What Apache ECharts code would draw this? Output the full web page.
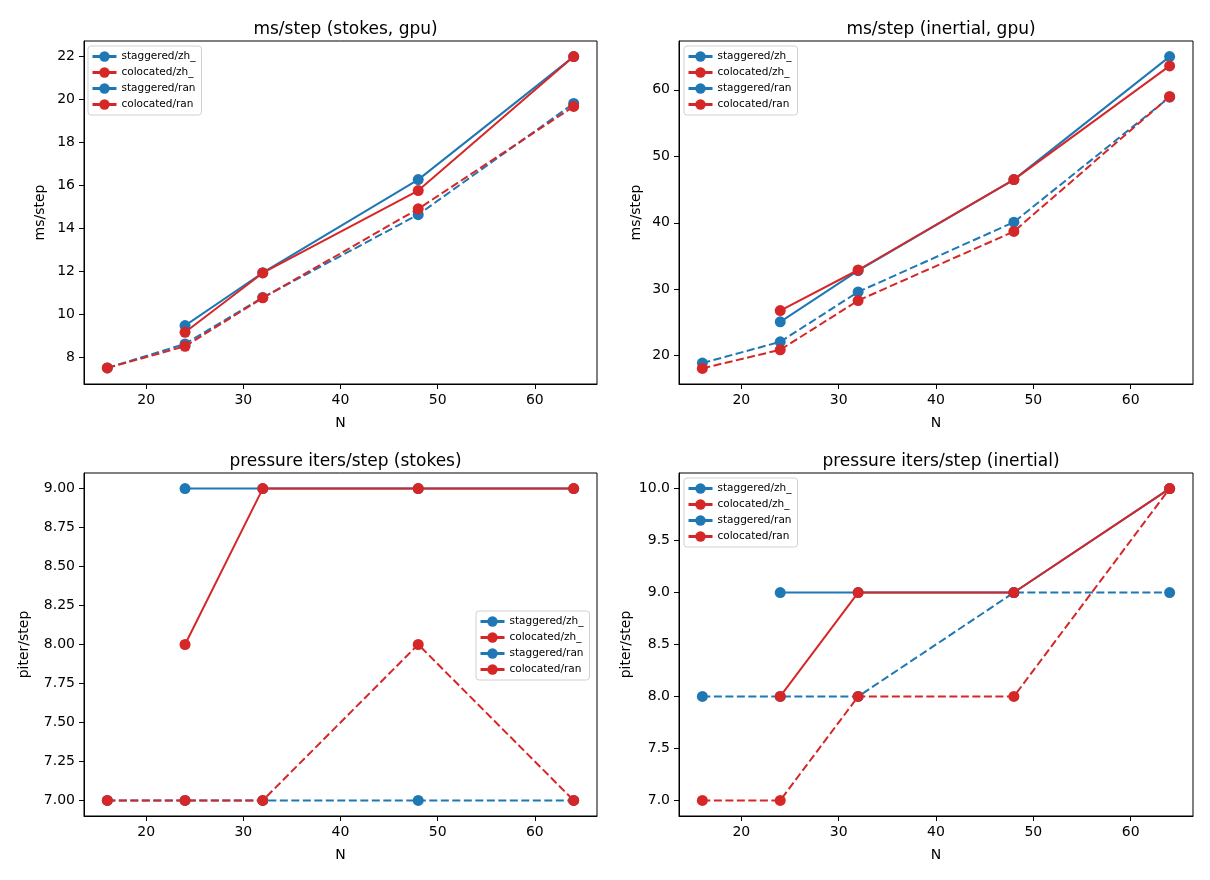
<!DOCTYPE html>
<html lang="en">
<head>
    <meta charset="UTF-8">
    <title>ms/step and pressure iters</title>
</head>
<style type="text/css">
    *{
        margin: 0;
        padding: 0;
    }
    #chart{
        width: 1210px;
        height: 880px;
        background: #fff;
    }
</style>
<body>
<div id="chart"></div>
</body>
<script src="https://cdn.jsdelivr.net/npm/echarts@6/dist/echarts.min.js"></script>
<script>
    // x values (grid size N)
    var N = [16, 24, 32, 48, 64];

    // ms/step (stokes, gpu)
    var stokesMsStagZh = [7.52, 8.64, 10.8, 14.65, 19.82];
    var stokesMsColZh  = [7.52, 8.53, 10.78, 14.92, 19.68];
    var stokesMsStagRan = [null, 9.49, 11.95, 16.28, 22.0];
    var stokesMsColRan  = [null, 9.18, 11.94, 15.77, 22.0];

    // ms/step (inertial, gpu)
    var inertMsStagZh = [18.9, 22.1, 29.6, 40.1, 58.9];
    var inertMsColZh  = [18.1, 20.9, 28.3, 38.7, 59.0];
    var inertMsStagRan = [null, 25.1, 32.8, 46.5, 65.0];
    var inertMsColRan  = [null, 26.8, 32.9, 46.5, 63.6];

    // pressure iters/step (stokes)
    var stokesItStagZh = [7, 7, 7, 7, 7];
    var stokesItColZh  = [7, 7, 7, 8, 7];
    var stokesItStagRan = [null, 9, 9, 9, 9];
    var stokesItColRan  = [null, 8, 9, 9, 9];

    // pressure iters/step (inertial)
    var inertItStagZh = [8, 8, 8, 9, 9];
    var inertItColZh  = [7, 7, 8, 8, 10];
    var inertItStagRan = [null, 9, 9, 9, 10];
    var inertItColRan  = [null, 8, 9, 9, 10];

    // tick labels
    var xTicks = [20, 30, 40, 50, 60];
    var yTicksStokesMs = [8, 10, 12, 14, 16, 18, 20, 22];
    var yTicksInertMs = [20, 30, 40, 50, 60];
    var yTicksStokesIt = [7.0, 7.25, 7.5, 7.75, 8.0, 8.25, 8.5, 8.75, 9.0];
    var yTicksInertIt = [7.0, 7.5, 8.0, 8.5, 9.0, 9.5, 10.0];

    var names = ['staggered/zh_', 'colocated/zh_', 'staggered/ran', 'colocated/ran'];
    var titles = ['ms/step (stokes, gpu)', 'ms/step (inertial, gpu)', 'pressure iters/step (stokes)', 'pressure iters/step (inertial)'];
    var yNames = ['ms/step', 'ms/step', 'piter/step', 'piter/step'];

    var BLUE = '#1f77b4', RED = '#d62728';
    var FONT = 'DejaVu Sans';

    var panels = [
        {data: [stokesMsStagZh, stokesMsColZh, stokesMsStagRan, stokesMsColRan], ticks: yTicksStokesMs, dec: 0, min: 6.775, max: 22.725, gap: 37},
        {data: [inertMsStagZh, inertMsColZh, inertMsStagRan, inertMsColRan], ticks: yTicksInertMs, dec: 0, min: 15.75, max: 67.35, gap: 36},
        {data: [stokesItStagZh, stokesItColZh, stokesItStagRan, stokesItColRan], ticks: yTicksStokesIt, dec: 2, min: 6.9, max: 9.1, gap: 53},
        {data: [inertItStagZh, inertItColZh, inertItStagRan, inertItColRan], ticks: yTicksInertIt, dec: 1, min: 6.85, max: 10.15, gap: 46}
    ];

    var gridPos = [
        {left: 84, top: 41, width: 513, height: 343},
        {left: 679, top: 41, width: 514, height: 343},
        {left: 84, top: 473, width: 513, height: 343},
        {left: 679, top: 473, width: 514, height: 343}
    ];
    var legendPos = [
        {left: 88, top: 46},
        {left: 684, top: 46},
        {left: 476, top: 611},
        {left: 684, top: 478}
    ];

    function pairs(ys) {
        var out = [];
        for (var i = 0; i < N.length; i++) {
            if (ys[i] !== null) out.push([N[i], ys[i]]);
        }
        return out;
    }

    var grid = [], xAxis = [], yAxis = [], series = [], title = [], legend = [];

    for (var p = 0; p < 4; p++) {
        var g = gridPos[p];
        grid.push({left: g.left, top: g.top, width: g.width, height: g.height,
            show: true, borderColor: '#000', borderWidth: 1, backgroundColor: 'transparent'});

        title.push({
            text: titles[p], left: g.left + g.width / 2, top: g.top - 25, textAlign: 'center',
            textStyle: {fontFamily: FONT, fontSize: 17, fontWeight: 'normal', color: '#000'}
        });

        xAxis.push({
            type: 'value', gridIndex: p, min: 13.6, max: 66.4,
            name: 'N', nameLocation: 'middle', nameGap: 32,
            nameTextStyle: {fontFamily: FONT, fontSize: 14, color: '#000'},
            axisLine: {show: true, lineStyle: {color: '#000'}},
            axisTick: {show: true, length: 5, lineStyle: {color: '#000'}, customValues: xTicks},
            axisLabel: {fontFamily: FONT, fontSize: 14, color: '#000', margin: 9, customValues: xTicks},
            splitLine: {show: false}
        });

        (function (dec) {
            yAxis.push({
                type: 'value', gridIndex: p, min: panels[p].min, max: panels[p].max,
                name: yNames[p], nameLocation: 'middle', nameGap: panels[p].gap,
                nameTextStyle: {fontFamily: FONT, fontSize: 14, color: '#000'},
                axisLine: {show: true, lineStyle: {color: '#000'}},
                axisTick: {show: true, length: 5, lineStyle: {color: '#000'}, customValues: panels[p].ticks},
                axisLabel: {fontFamily: FONT, fontSize: 14, color: '#000', margin: 9,
                    customValues: panels[p].ticks,
                    formatter: function (v) { return v.toFixed(dec); }},
                splitLine: {show: false}
            });
        })(panels[p].dec);

        for (var s = 0; s < 4; s++) {
            var col = (s % 2 === 0) ? BLUE : RED;
            series.push({
                name: names[s], type: 'line', xAxisIndex: p, yAxisIndex: p,
                data: pairs(panels[p].data[s]),
                symbol: 'circle', symbolSize: 11, showSymbol: true,
                lineStyle: {color: col, width: 2, type: s < 2 ? [8, 3.5] : 'solid'},
                itemStyle: {color: col},
                z: 2 + s,
                animation: false
            });
        }

        legend.push({
            left: legendPos[p].left, top: legendPos[p].top, orient: 'vertical',
            data: names, itemWidth: 24, itemHeight: 13, itemGap: 5,
            padding: [5, 6, 5, 3],
            borderColor: '#d0d0d0', borderWidth: 1, borderRadius: 3, backgroundColor: 'rgba(255,255,255,0.8)',
            lineStyle: {type: 'solid', width: 3},
            textStyle: {fontFamily: FONT, fontSize: 10.5, color: '#000'},
            selectedMode: false
        });
    }

    var myChart = echarts.init(document.getElementById('chart'));
    myChart.setOption({
        animation: false,
        title: title,
        legend: legend,
        grid: grid,
        xAxis: xAxis,
        yAxis: yAxis,
        series: series
    });
</script>
</html>
